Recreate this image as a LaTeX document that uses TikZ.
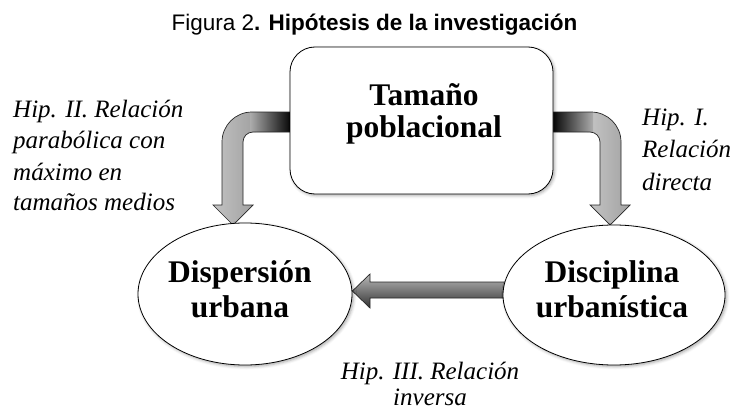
\documentclass[tikz,border=0pt]{standalone}
\usepackage{fontspec}
\setmainfont{Liberation Serif}
\newfontfamily\titlefont{Liberation Sans}
\usetikzlibrary{shapes.geometric,shadows.blur,calc,backgrounds}
\newcommand{\larrpath}{(300,112) -- (252,112) .. controls (235.4,112) and (222,125.4) .. (222,142) -- (222,205) -- (213,205) -- (233,225) -- (253,205) -- (243,205) -- (243,142) .. controls (243,136.5) and (247.5,132) .. (253,132) -- (300,132) -- cycle}
\newcommand{\rarrpath}{(543,112) -- (591,112) .. controls (607.6,112) and (621,125.4) .. (621,142) -- (621,205) -- (630,205) -- (610,225) -- (590,205) -- (600,205) -- (600,142) .. controls (600,136.5) and (595.5,132) .. (590,132) -- (543,132) -- cycle}
\begin{document}
\begin{tikzpicture}[x=1pt,y=-1pt,
  softshadow/.style={blur shadow={shadow xshift=1.5pt, shadow yshift=-1.5pt, shadow blur radius=3pt, shadow opacity=35}},
  boxstyle/.style={draw, line width=0.8pt, rounded corners=25pt, fill=white, minimum width=263pt, minimum height=147pt, inner sep=0pt, softshadow},
  ellstyle/.style={draw, ellipse, line width=0.8pt, fill=white, inner sep=0pt, softshadow},
  boldtxt/.style={font=\fontsize{31.5}{33}\selectfont\bfseries, anchor=base, inner sep=0pt},
  itxt/.style={font=\fontsize{25}{30}\selectfont\itshape, anchor=base west, inner sep=0pt},
  ctxt/.style={font=\fontsize{25}{30}\selectfont\itshape, anchor=base, inner sep=0pt},
  arrowline/.style={draw=black!85, line width=0.7pt}]
\useasboundingbox (0,0) rectangle (749,412);

% title
\node[font=\titlefont\fontsize{22.5}{27}\selectfont, anchor=base, inner sep=0pt] (title) at (374.5,31) {Figura 2\textbf{. Hipótesis de la investigación}};

% nodes
\node[boxstyle] (tam) at (421.5,120.5) {};
\node[ellstyle, minimum width=214pt, minimum height=142pt] (dsp) at (245,294) {};
\node[ellstyle, minimum width=222pt, minimum height=140pt] (dis) at (614,295) {};

% node texts
\node[boldtxt] (tam1) at (424,105) {Tamaño};
\node[boldtxt] (tam2) at (424,137) {poblacional};
\node[boldtxt] (dsp1) at (240,282) {Dispersión};
\node[boldtxt] (dsp2) at (240,317) {urbana};
\node[boldtxt] (dis1) at (612,282) {Disciplina};
\node[boldtxt] (dis2) at (612,317) {urbanística};

% labels
\node[itxt] (h2a) at (13,117) {Hip. II. Relación};
\node[itxt] (h2b) at (13,148) {parabólica con};
\node[itxt] (h2c) at (13,180) {máximo en};
\node[itxt] (h2d) at (13,210) {tamaños medios};
\node[itxt] (h1a) at (642,125) {Hip. I.};
\node[itxt] (h1b) at (642,157) {Relación};
\node[itxt] (h1c) at (642,190) {directa};
\node[ctxt] (h3a) at (430,379) {Hip. III. Relación};
\node[ctxt] (h3b) at (430,405) {inversa};

% arrows behind the nodes
\begin{pgfonlayer}{background}
  \begin{scope}
    \clip \larrpath;
    \shade[left color=gray!45, right color=gray!75] (210,100) rectangle (256,230);
    \shade[left color=gray!65, right color=black] (250,108) rectangle (292,136);
  \end{scope}
  \draw[arrowline] \larrpath;
  \begin{scope}
    \clip \rarrpath;
    \shade[left color=gray!45, right color=gray!75] (587,100) rectangle (633,230);
    \shade[left color=black, right color=gray!65] (551,108) rectangle (593,136);
  \end{scope}
  \draw[arrowline] \rarrpath;
  \shade[top color=gray!55, bottom color=black!80, arrowline]
    ($(dis.west)+(8,-13)$) -- (370,282) -- (370,274) -- (dsp.east |- 0,291) -- (370,308) -- (370,298) -- ($(dis.west)+(8,3)$) -- cycle;
\end{pgfonlayer}
\end{tikzpicture}
\end{document}
